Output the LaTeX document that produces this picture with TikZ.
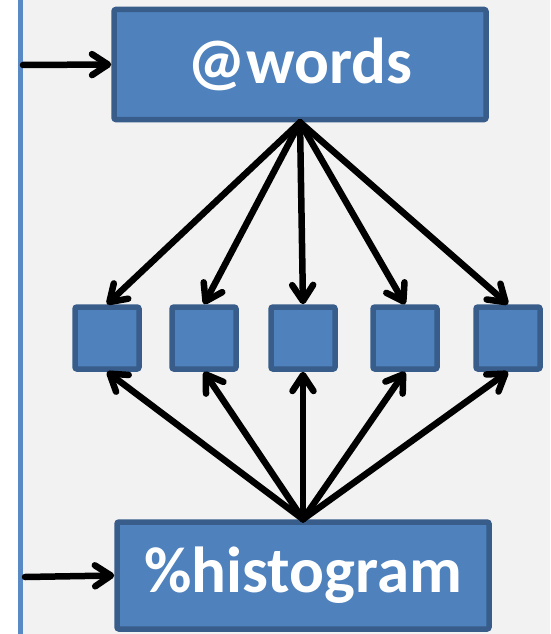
\documentclass[tikz,border=0pt]{standalone}
\usepackage{fontspec}
\setmainfont{Carlito}
\usetikzlibrary{arrows.meta}
\definecolor{boxfill}{HTML}{4F81BD}
\definecolor{boxedge}{HTML}{385D8A}
\definecolor{panel}{HTML}{F2F2F2}
\definecolor{railblue}{HTML}{5A8AC6}
\begin{document}
\begin{tikzpicture}[x=1pt,y=-1pt,
  blockbox/.style={draw=boxedge, fill=boxfill, line width=5.5pt, rounded corners=2pt,
    text=white, font=\bfseries\fontsize{65}{68}\selectfont, inner sep=0pt},
  cellbox/.style={draw=boxedge, fill=boxfill, line width=5.5pt, rounded corners=2pt,
    minimum width=64pt, minimum height=62pt, inner sep=0pt},
  flow/.style={draw=black, line width=6.5pt, line cap=round,
    -{Straight Barb[length=16pt, width=21pt, line cap=round, line join=round]}}]
  % background panel and left rail
  \useasboundingbox (0,0) rectangle (550,634);
  \fill[white] (0,0) rectangle (550,634);
  \fill[panel] (20,0) rectangle (550,634);
  \draw[railblue, line width=5pt] (20,0) -- (20,634);

  % main blocks
  \node[blockbox, minimum width=372pt, minimum height=110pt] (words) at (300,64.5) {@words};
  \node[blockbox, minimum width=372pt, minimum height=107pt] (hist) at (303,575.5) {\%histogram};

  % row of cells
  \foreach \i/\x in {1/107, 2/204, 3/303, 4/405, 5/508}
    \node[cellbox] (c\i) at (\x,338) {};

  % inputs from the rail
  \coordinate (inw) at (23,65);
  \coordinate (inh) at (25,577);
  \draw[flow] (inw) -- (words.west);
  \draw[flow] (inh) -- (hist.west);

  % fan-out and fan-in
  \foreach \i in {1,...,5} {
    \draw[flow] (words.south) -- (c\i.north);
    \draw[flow] (hist.north) -- (c\i.south);
  }
\end{tikzpicture}
\end{document}
